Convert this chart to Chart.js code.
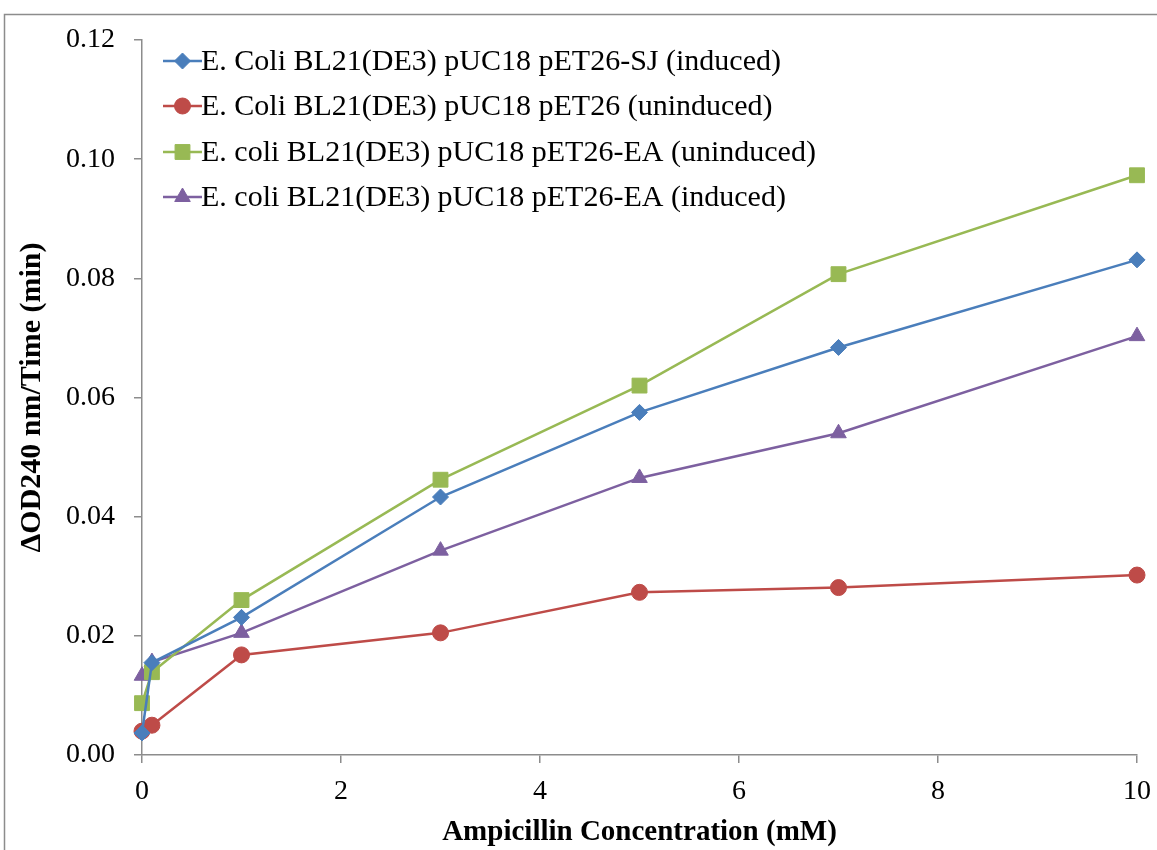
<!DOCTYPE html>
<html>
<head>
<meta charset="utf-8">
<script src="https://cdn.jsdelivr.net/npm/chart.js@4.4.1/dist/chart.umd.min.js"></script>
<style>
html,body{margin:0;padding:0;background:#fff;}
#wrap{width:1157px;height:850px;position:relative;}
</style>
</head>
<body>
<div id="wrap"><canvas id="c" width="1157" height="850"></canvas></div>
<script>
const concentrations = [0, 0.1, 1, 3, 5, 7, 10];
const sjInduced = [0.0037, 0.0155, 0.0231, 0.0433, 0.0575, 0.0684, 0.0831];
const pet26Uninduced = [0.0040, 0.0050, 0.0168, 0.0205, 0.0273, 0.0281, 0.0302];
const eaUninduced = [0.0087, 0.0139, 0.0260, 0.0462, 0.0620, 0.0807, 0.0973];
const eaInduced = [0.0133, 0.0156, 0.0205, 0.0343, 0.0465, 0.0540, 0.0703];
const seriesLabels = [
  'E. Coli BL21(DE3) pUC18 pET26-SJ (induced)',
  'E. Coli BL21(DE3) pUC18 pET26 (uninduced)',
  'E. coli BL21(DE3) pUC18 pET26-EA (uninduced)',
  'E. coli BL21(DE3) pUC18 pET26-EA (induced)'
];
const xTitle = 'Ampicillin Concentration (mM)';
const yTitle = 'ΔOD240 nm/Time (min)';

const FONT = "'Liberation Serif', 'Times New Roman', serif";
const colors = ['#4a7ebb', '#be4b48', '#98b954', '#7d60a0'];
const styles = ['rectRot', 'circle', 'rect', 'triangle'];
const radii = [8, 8, 10.5, 9];
const allSeries = [sjInduced, pet26Uninduced, eaUninduced, eaInduced];

const datasets = allSeries.map((vals, i) => ({
  label: seriesLabels[i],
  data: concentrations.map((x, j) => ({x: x, y: vals[j]})),
  borderColor: colors[i],
  backgroundColor: colors[i],
  borderWidth: 2.5,
  pointStyle: styles[i],
  pointRadius: radii[i],
  pointBorderWidth: 1,
  pointBackgroundColor: colors[i],
  pointBorderColor: colors[i],
  tension: 0,
  clip: false
}));

const framePlugin = {
  id: 'frame',
  beforeDraw(chart) {
    const ctx = chart.ctx;
    ctx.save();
    ctx.fillStyle = '#fff';
    ctx.fillRect(0, 0, chart.width, chart.height);
    ctx.strokeStyle = '#8c8c8c';
    ctx.lineWidth = 1.5;
    ctx.beginPath();
    ctx.moveTo(4.5, 860);
    ctx.lineTo(4.5, 14.5);
    ctx.lineTo(1170, 14.5);
    ctx.stroke();
    ctx.restore();
  }
};

const legendPlugin = {
  id: 'customLegend',
  afterDraw(chart) {
    const ctx = chart.ctx;
    ctx.save();
    const x0 = 163, x1 = 202, ys = [61, 106, 152, 197];
    chart.data.datasets.forEach((ds, i) => {
      const y = ys[i];
      ctx.strokeStyle = ds.borderColor;
      ctx.lineWidth = 2.5;
      ctx.beginPath();
      ctx.moveTo(x0, y);
      ctx.lineTo(x1, y);
      ctx.stroke();
      ctx.fillStyle = ds.borderColor;
      ctx.strokeStyle = ds.borderColor;
      ctx.lineWidth = 1;
      Chart.helpers.drawPoint(ctx, {pointStyle: ds.pointStyle, radius: ds.pointRadius, borderWidth: 1}, (x0 + x1) / 2, y);
      ctx.fillStyle = '#000';
      ctx.font = '30px ' + FONT;
      ctx.textBaseline = 'middle';
      ctx.textAlign = 'left';
      ctx.fillText(ds.label, x1 - 1, y + 1);
    });
    ctx.restore();
  }
};

new Chart(document.getElementById('c'), {
  type: 'scatter',
  data: { datasets: datasets },
  options: {
    responsive: false,
    animation: false,
    devicePixelRatio: 1,
    showLine: true,
    layout: { padding: { top: 40, right: 20, left: 0, bottom: 0 } },
    plugins: {
      legend: { display: false },
      tooltip: { enabled: false }
    },
    scales: {
      x: {
        type: 'linear',
        min: 0, max: 10,
        afterFit(scale) { scale.height = 95; scale.paddingLeft = 0; scale.paddingRight = 0; },
        ticks: { stepSize: 2, color: '#000', font: { family: FONT, size: 28 }, padding: 12, maxRotation: 0 },
        grid: { display: true, drawOnChartArea: false, drawTicks: true, tickLength: 8, color: '#8c8c8c', lineWidth: 1.5 },
        border: { display: true, color: '#8c8c8c', width: 1.5 },
        title: { display: true, text: xTitle, color: '#000', font: { family: FONT, size: 29, weight: 'bold' }, padding: { top: 2, bottom: 0 } }
      },
      y: {
        type: 'linear',
        min: 0, max: 0.12,
        afterFit(scale) { scale.width = 142; scale.paddingTop = 0; scale.paddingBottom = 0; },
        ticks: { stepSize: 0.02, color: '#000', font: { family: FONT, size: 28 }, padding: 19,
          callback: v => Number(v).toFixed(2) },
        grid: { display: true, drawOnChartArea: false, drawTicks: true, tickLength: 8, color: '#8c8c8c', lineWidth: 1.5 },
        border: { display: true, color: '#8c8c8c', width: 1.5 },
        title: { display: true, text: yTitle, color: '#000', font: { family: FONT, size: 30, weight: 'bold' }, padding: { top: 14, bottom: 0 } }
      }
    }
  },
  plugins: [framePlugin, legendPlugin]
});
</script>
</body>
</html>
